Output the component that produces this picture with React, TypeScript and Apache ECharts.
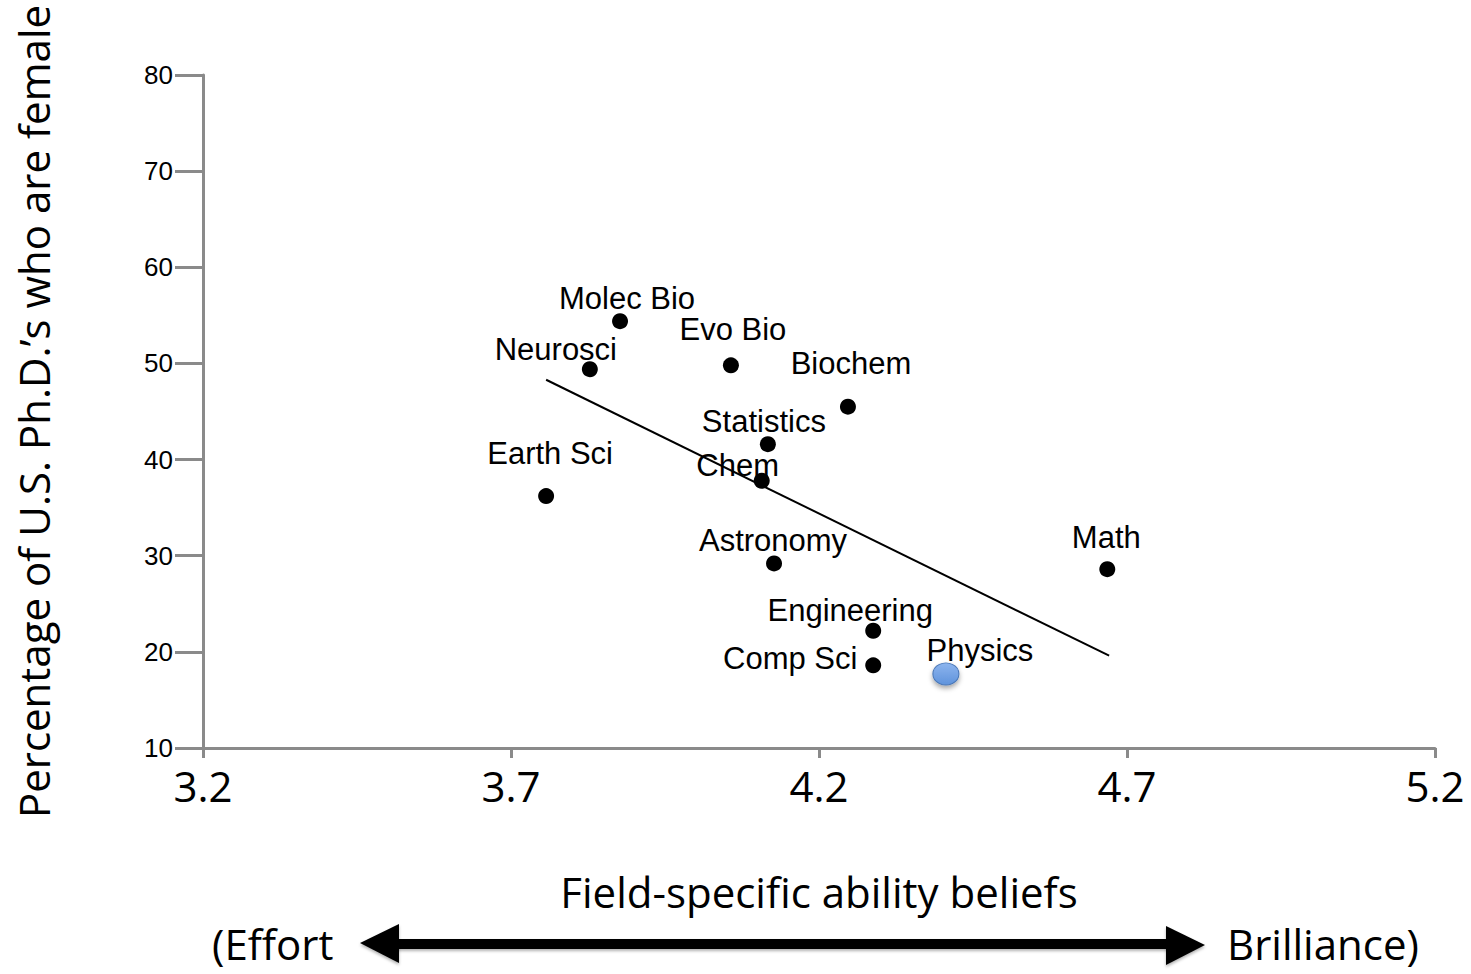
import React, { useEffect, useRef } from "react";
import * as echarts from "echarts";

const fields = ["Molec Bio", "Neurosci", "Evo Bio", "Biochem", "Statistics", "Chem", "Earth Sci", "Astronomy", "Math", "Engineering", "Comp Sci", "Physics"];
const beliefs = [3.877, 3.828, 4.057, 4.247, 4.117, 4.107, 3.757, 4.127, 4.668, 4.288, 4.288, 4.406];
const pctFemale = [54.4, 49.4, 49.8, 45.5, 41.6, 37.8, 36.2, 29.2, 28.6, 22.2, 18.6, 17.7];
const trendX = [3.757, 4.671];
const trendY = [48.3, 19.6];
const xTicks = [3.2, 3.7, 4.2, 4.7, 5.2];
const yTicks = [10, 20, 30, 40, 50, 60, 70, 80];

// label offsets (styling), keyed by field
const labelOffsets: Record<string, number[]> = {
  "Molec Bio": [7, -23],
  Neurosci: [-34, -20],
  "Evo Bio": [2, -36],
  Biochem: [3, -43],
  Statistics: [-4, -23],
  Chem: [-24, -15],
  "Earth Sci": [4, -43],
  Astronomy: [-1, -23],
  Math: [-1, -32],
  Engineering: [-23, -20],
  "Comp Sci": [-83, -7],
  Physics: [34, -23],
};

const TITLE_FONT = "'Open Sans', 'Noto Sans', sans-serif";
const LABEL_FONT = "'Liberation Sans', Arial, sans-serif";

export default function App() {
  const ref = useRef<HTMLDivElement>(null);
  useEffect(() => {
    if (!ref.current) return;
    const chart = echarts.init(ref.current, undefined, { renderer: "svg" });

    const pointData = fields.map((f, i) => {
      const isPhysics = f === "Physics";
      return {
        name: f,
        value: [beliefs[i], pctFemale[i]],
        symbol: "circle",
        symbolSize: isPhysics ? [26, 22] : 16,
        itemStyle: isPhysics
          ? {
              opacity: 1,
              color: new echarts.graphic.LinearGradient(0, 0, 0, 1, [
                { offset: 0, color: "#8db5ee" },
                { offset: 1, color: "#5f93dc" },
              ]),
              borderColor: "#4a78b8",
              borderWidth: 1,
              shadowColor: "rgba(0,0,0,0.35)",
              shadowBlur: 5,
              shadowOffsetY: 3,
            }
          : { color: "#000", opacity: 1 },
        label: {
          show: true,
          position: "inside",
          offset: labelOffsets[f],
          formatter: f,
          color: "#000",
          fontSize: 31,
          fontFamily: LABEL_FONT,
        },
      };
    });

    chart.setOption({
      animation: false,
      backgroundColor: "#fff",
      grid: { left: 203, right: 36, top: 75, bottom: 226, containLabel: false, outerBoundsMode: "none" },
      xAxis: {
        type: "value",
        min: xTicks[0],
        max: xTicks[xTicks.length - 1],
        interval: 0.5,
        splitLine: { show: false },
        axisLine: { show: true, lineStyle: { color: "#8a8a8a", width: 3 } },
        axisTick: { show: true, length: 10, lineStyle: { color: "#8a8a8a", width: 3 } },
        axisLabel: {
          color: "#000",
          fontSize: 42,
          fontFamily: TITLE_FONT,
          margin: 16,
          formatter: (v: number) => v.toFixed(1),
        },
        name: "Field-specific ability beliefs",
        nameLocation: "middle",
        nameGap: 122,
        nameTextStyle: { color: "#000", fontSize: 42, fontFamily: TITLE_FONT },
      },
      yAxis: {
        type: "value",
        min: yTicks[0],
        max: yTicks[yTicks.length - 1],
        interval: 10,
        splitLine: { show: false },
        axisLine: { show: true, lineStyle: { color: "#8a8a8a", width: 3 } },
        axisTick: { show: true, length: 28, lineStyle: { color: "#8a8a8a", width: 3 } },
        axisLabel: { color: "#000", fontSize: 26, fontFamily: LABEL_FONT, margin: 30 },
        name: "Percentage of U.S. Ph.D.’s who are female",
        nameLocation: "middle",
        nameRotate: 90,
        nameGap: 149,
        nameTextStyle: { color: "#000", fontSize: 42, fontFamily: TITLE_FONT },
      },
      graphic: [
        { type: "text", left: 212, top: 922, style: { text: "(Effort", fontSize: 42, fontFamily: TITLE_FONT, fill: "#000" } },
        { type: "text", left: 1227, top: 922, style: { text: "Brilliance)", fontSize: 42, fontFamily: TITLE_FONT, fill: "#000" } },
        { type: "rect", shape: { x: 395, y: 939, width: 775, height: 10 }, style: { fill: "#000", shadowColor: "rgba(0,0,0,0.3)", shadowBlur: 3, shadowOffsetY: 2 } },
        { type: "polygon", shape: { points: [[360, 943], [399, 924], [399, 963]] }, style: { fill: "#000", shadowColor: "rgba(0,0,0,0.3)", shadowBlur: 3, shadowOffsetY: 2 } },
        { type: "polygon", shape: { points: [[1205, 945], [1166, 926], [1166, 965]] }, style: { fill: "#000", shadowColor: "rgba(0,0,0,0.3)", shadowBlur: 3, shadowOffsetY: 2 } },
      ],
      series: [
        {
          type: "line",
          data: trendX.map((x, i) => [x, trendY[i]]),
          symbol: "none",
          lineStyle: { color: "#000", width: 2 },
          z: 1,
        },
        {
          type: "scatter",
          data: pointData,
          z: 2,
        },
      ],
    });
    return () => chart.dispose();
  }, []);
  return <div ref={ref} style={{ position: "fixed", left: 0, top: 0, width: 1471, height: 974 }} />;
}
